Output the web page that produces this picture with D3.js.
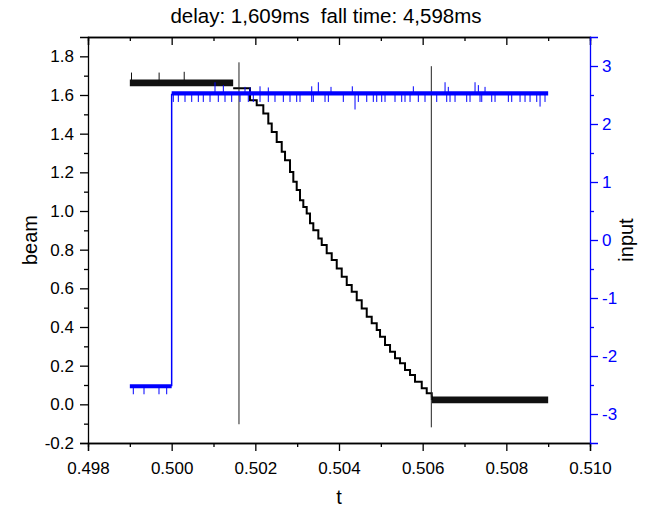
<!DOCTYPE html>
<html>
<head>
<meta charset="utf-8">
<script src="https://cdn.jsdelivr.net/npm/d3@7"></script>
<style>
body { margin:0; background:#fff; }
text { font-family: "Liberation Sans", Arial, sans-serif; }
</style>
</head>
<body>
<script>
// ---- data ----
var titleText = "delay: 1,609ms  fall time: 4,598ms";
var xTicks = [0.498, 0.500, 0.502, 0.504, 0.506, 0.508, 0.510];
var beamTicks = [-0.2, 0.0, 0.2, 0.4, 0.6, 0.8, 1.0, 1.2, 1.4, 1.6, 1.8];
var inputTicks = [-3, -2, -1, 0, 1, 2, 3];

// [t, low, high] of the noisy flat parts
var beamHighBand = [[0.49900, 1.645, 1.680], [0.50147, 1.645, 1.680]];
var beamLowBand = [[0.50622, 0.005, 0.040], [0.50900, 0.005, 0.040]];
var beamSpikes = [[0.49904, 1.716], [0.49970, 1.716], [0.50030, 1.72]];
// falling edge [t, beam]
var beamFall = [
	[0.50147, 1.635], [0.501873, 1.573], [0.502033, 1.547], [0.502191, 1.504], [0.502310, 1.452],
	[0.502392, 1.409], [0.502511, 1.357], [0.502631, 1.306], [0.502710, 1.263], [0.502829, 1.202],
	[0.502908, 1.151], [0.502989, 1.108], [0.503068, 1.056], [0.503147, 1.021], [0.503228, 0.987],
	[0.503307, 0.936], [0.503386, 0.901], [0.503506, 0.858], [0.503587, 0.824], [0.503706, 0.781],
	[0.503826, 0.746], [0.503946, 0.703], [0.504065, 0.660], [0.504185, 0.617], [0.504304, 0.582],
	[0.504424, 0.539], [0.504543, 0.496], [0.504663, 0.453], [0.504782, 0.419], [0.504902, 0.384],
	[0.504981, 0.350], [0.505100, 0.307], [0.505220, 0.272], [0.505339, 0.238], [0.505459, 0.212],
	[0.505578, 0.177], [0.505698, 0.152], [0.505817, 0.117], [0.505978, 0.083], [0.506097, 0.057],
	[0.506217, 0.040], [0.50622, 0.022]
];

var inputLowBand = [[0.49900, -2.555, -2.486], [0.50000, -2.555, -2.486]];
var inputHighBand = [[0.50000, 2.490, 2.565], [0.50900, 2.490, 2.565]];
var inputStep = [[0.50000, -2.52], [0.50000, 2.52]];
var inputLowSpikes = [[0.499083, -2.66], [0.499339, -2.66], [0.499697, -2.66], [0.499881, -2.66]];
var inputDownSpikes = [
	[0.500039, 2.38], [0.500159, 2.38], [0.500319, 2.38], [0.500479, 2.38], [0.500637, 2.38],
	[0.500756, 2.38], [0.500917, 2.38], [0.501115, 2.38], [0.501275, 2.38], [0.501435, 2.38],
	[0.501634, 2.38], [0.501832, 2.38], [0.501952, 2.38], [0.502112, 2.38], [0.502310, 2.38],
	[0.502470, 2.38], [0.502669, 2.38], [0.502829, 2.38], [0.502989, 2.38], [0.503068, 2.38],
	[0.503348, 2.38], [0.503386, 2.38], [0.503666, 2.38], [0.503745, 2.38], [0.504103, 2.38],
	[0.504383, 2.25], [0.504462, 2.38], [0.504663, 2.38], [0.504820, 2.38], [0.504902, 2.38],
	[0.505021, 2.38], [0.505100, 2.38], [0.505339, 2.38], [0.505499, 2.38], [0.505578, 2.38],
	[0.505698, 2.38], [0.505896, 2.38], [0.506056, 2.38], [0.506336, 2.38], [0.506575, 2.38],
	[0.506654, 2.38], [0.506774, 2.38], [0.507053, 2.38], [0.507132, 2.38], [0.507371, 2.38],
	[0.507412, 2.38], [0.507651, 2.38], [0.507730, 2.38], [0.508048, 2.38], [0.508129, 2.38],
	[0.508328, 2.38], [0.508447, 2.38], [0.508567, 2.38], [0.508727, 2.38], [0.508806, 2.30],
	[0.508925, 2.38]
];
var inputUpSpikes = [
	[0.501036, 2.72], [0.501235, 2.67], [0.501753, 2.64], [0.501873, 2.63], [0.502112, 2.65],
	[0.502310, 2.63], [0.503348, 2.65], [0.503506, 2.72], [0.503809, 2.64], [0.504318, 2.65],
	[0.505777, 2.65], [0.506535, 2.72], [0.506613, 2.64], [0.507252, 2.72], [0.507331, 2.67],
	[0.507491, 2.64]
];

// cursor lines: [t, beam bottom, beam top]
var cursors = [[0.501609, -0.103, 1.769], [0.506207, -0.119, 1.749]];

// ---- layout ----
var W = 647, H = 512;
var pLeft = 88, pRight = 590, pTop = 37, pBottom = 443;

var svg = d3.select("body").append("svg")
	.attr("width", W)
	.attr("height", H);

var x = d3.scaleLinear().domain([0.498, 0.510]).range([pLeft, pRight]);
var yB = d3.scaleLinear().domain([-0.2, 1.9]).range([pBottom, pTop]);
var yI = d3.scaleLinear().domain([-3.5, 3.5]).range([pBottom, pTop]);

var minorOf = function(ticks, step){
	var out = [];
	for(var i = 0; i < ticks.length - 1; i++) out.push(+(ticks[i] + step).toFixed(6));
	return out;
};

// plain hyphen for negatives, like the original
var fmt = function(spec){
	var f = d3.format(spec);
	return function(d){ return f(d).replace("\u2212", "-"); };
};

// ---- data marks ----
var band = function(ys){
	return d3.area()
		.x(function(d){ return x(d[0]); })
		.y0(function(d){ return ys(d[1]); })
		.y1(function(d){ return ys(d[2]); });
};

svg.append("path").datum(beamHighBand).attr("d", band(yB)).attr("fill", "#111");
svg.append("path").datum(beamLowBand).attr("d", band(yB)).attr("fill", "#111");

svg.selectAll("line.bspike").data(beamSpikes).enter().append("line")
	.attr("x1", function(d){ return x(d[0]); })
	.attr("x2", function(d){ return x(d[0]); })
	.attr("y1", yB(1.66))
	.attr("y2", function(d){ return yB(d[1]); })
	.attr("stroke", "#111").attr("stroke-width", 1);

svg.append("path").datum(beamFall)
	.attr("d", d3.line().curve(d3.curveStepAfter)
		.x(function(d){ return x(d[0]); })
		.y(function(d){ return yB(d[1]); }))
	.attr("fill", "none")
	.attr("stroke", "#000")
	.attr("stroke-width", 2);

// cursors
svg.selectAll("line.cursor").data(cursors).enter().append("line")
	.attr("x1", function(d){ return x(d[0]); })
	.attr("x2", function(d){ return x(d[0]); })
	.attr("y1", function(d){ return yB(d[1]); })
	.attr("y2", function(d){ return yB(d[2]); })
	.attr("stroke", "#222").attr("stroke-width", 1);

// input (blue)
svg.append("path").datum(inputLowBand).attr("d", band(yI)).attr("fill", "#0000ff");
svg.append("path").datum(inputHighBand).attr("d", band(yI)).attr("fill", "#0000ff");
svg.append("path").datum(inputStep)
	.attr("d", d3.line().x(function(d){ return x(d[0]); }).y(function(d){ return yI(d[1]); }))
	.attr("stroke", "#0000ff").attr("stroke-width", 1.5).attr("fill", "none");

var spikes = function(data, base){
	svg.append("g").selectAll("line").data(data).enter().append("line")
		.attr("x1", function(d){ return x(d[0]); })
		.attr("x2", function(d){ return x(d[0]); })
		.attr("y1", yI(base))
		.attr("y2", function(d){ return yI(d[1]); })
		.attr("stroke", "#0000ff").attr("stroke-width", 1);
};
spikes(inputLowSpikes, -2.52);
spikes(inputDownSpikes, 2.52);
spikes(inputUpSpikes, 2.52);

// ---- axes ----
var styleAxis = function(g, color){
	g.selectAll("path.domain").attr("stroke", color).attr("stroke-width", 1.3);
	g.selectAll(".tick line").attr("stroke", color).attr("stroke-width", 1.3);
	g.selectAll(".tick text").attr("fill", color).style("font-size", "17px")
		.style("font-family", "Liberation Sans, Arial, sans-serif");
};

// bottom
var gx = svg.append("g").attr("transform", "translate(0," + pBottom + ")")
	.call(d3.axisBottom(x).tickValues(xTicks).tickFormat(fmt(".3f")).tickSizeOuter(0).tickSize(8).tickPadding(11));
styleAxis(gx, "#000");
var gx2 = svg.append("g").attr("transform", "translate(0," + pBottom + ")")
	.call(d3.axisBottom(x).tickValues(minorOf(xTicks, 0.001)).tickFormat("").tickSizeOuter(0).tickSize(4));
styleAxis(gx2, "#000");

// top (ticks inside)
var gt = svg.append("g").attr("transform", "translate(0," + pTop + ")")
	.call(d3.axisBottom(x).tickValues(xTicks).tickFormat("").tickSizeOuter(0).tickSize(8));
styleAxis(gt, "#000");
var gt2 = svg.append("g").attr("transform", "translate(0," + pTop + ")")
	.call(d3.axisBottom(x).tickValues(minorOf(xTicks, 0.001)).tickFormat("").tickSizeOuter(0).tickSize(4));
styleAxis(gt2, "#000");

// left
var gl = svg.append("g").attr("transform", "translate(" + pLeft + ",0)")
	.call(d3.axisLeft(yB).tickValues(beamTicks).tickFormat(fmt(".1f")).tickSizeOuter(0).tickSize(8).tickPadding(6));
styleAxis(gl, "#000");
var gl2 = svg.append("g").attr("transform", "translate(" + pLeft + ",0)")
	.call(d3.axisLeft(yB).tickValues(minorOf(beamTicks, 0.1)).tickFormat("").tickSizeOuter(0).tickSize(4));
styleAxis(gl2, "#000");
gl2.selectAll("path.domain").remove();

// right (blue)
var gr = svg.append("g").attr("transform", "translate(" + pRight + ",0)")
	.call(d3.axisRight(yI).tickValues(inputTicks).tickFormat(fmt("d")).tickSizeOuter(0).tickSize(8).tickPadding(4));
styleAxis(gr, "#0000ff");
var gr2 = svg.append("g").attr("transform", "translate(" + pRight + ",0)")
	.call(d3.axisRight(yI).tickValues(minorOf(inputTicks, 0.5)).tickFormat("").tickSizeOuter(0).tickSize(4));
styleAxis(gr2, "#0000ff");
gr2.selectAll("path.domain").remove();

// ---- labels ----
svg.append("text")
	.attr("x", 326).attr("y", 23)
	.attr("text-anchor", "middle")
	.style("font-size", "20.5px")
	.style("white-space", "pre")
	.text(titleText);

svg.append("text")
	.attr("x", (pLeft + pRight) / 2).attr("y", 504)
	.attr("text-anchor", "middle")
	.style("font-size", "20px")
	.text("t");

svg.append("text")
	.attr("transform", "translate(37," + (pTop + pBottom) / 2 + ") rotate(-90)")
	.attr("text-anchor", "middle")
	.style("font-size", "20px")
	.text("beam");

svg.append("text")
	.attr("transform", "translate(633," + (pTop + pBottom) / 2 + ") rotate(-90)")
	.attr("text-anchor", "middle")
	.style("font-size", "20px")
	.text("input");
</script>
</body>
</html>
